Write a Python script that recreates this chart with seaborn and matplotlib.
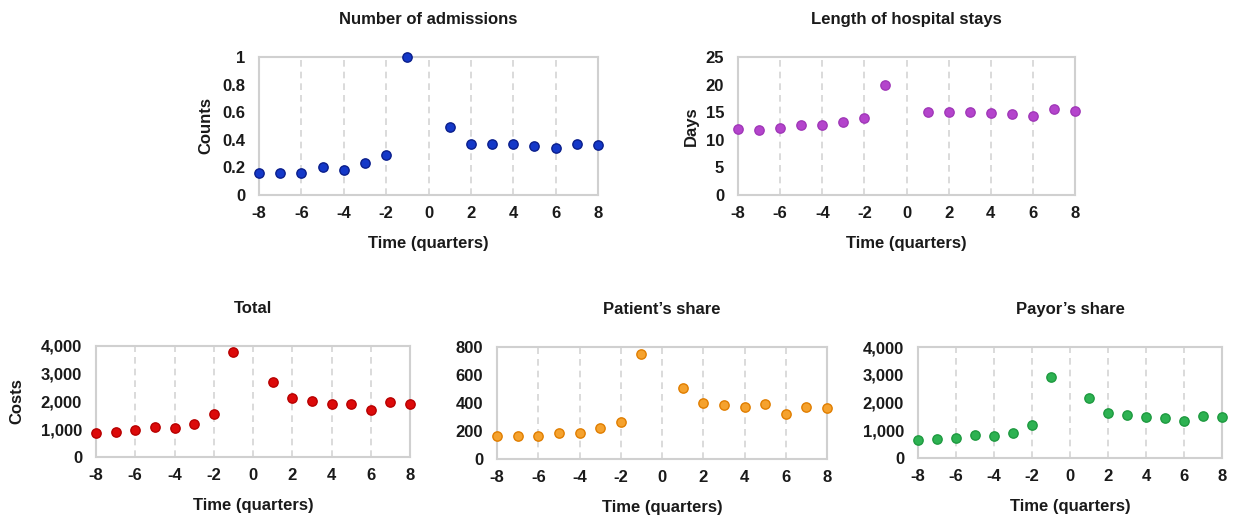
import numpy as np
import pandas as pd
import matplotlib
matplotlib.use("Agg")
import matplotlib.pyplot as plt
import seaborn as sns
from matplotlib.ticker import FuncFormatter, MultipleLocator

sns.set_theme(style="white")
plt.rcParams['font.family'] = ['Liberation Sans', 'DejaVu Sans']
plt.rcParams['axes.unicode_minus'] = False

quarters = [-8, -7, -6, -5, -4, -3, -2, -1, 1, 2, 3, 4, 5, 6, 7, 8]
admissions = [0.16, 0.16, 0.16, 0.20, 0.18, 0.23, 0.29, 1.00, 0.49, 0.37, 0.37, 0.37, 0.355, 0.34, 0.37, 0.36]
stay_days = [12.0, 11.8, 12.2, 12.7, 12.6, 13.2, 13.9, 20.0, 15.1, 15.1, 15.1, 14.9, 14.7, 14.3, 15.5, 15.3]
total_costs = [850, 910, 960, 1065, 1030, 1200, 1540, 3790, 2700, 2120, 2035, 1915, 1915, 1700, 1965, 1915]
patient_share = [165, 165, 165, 188, 188, 221, 262, 748, 507, 402, 386, 369, 395, 319, 369, 362]
payor_share = [660, 670, 705, 825, 790, 905, 1195, 2925, 2150, 1610, 1565, 1480, 1445, 1340, 1530, 1495]

panels = [
    dict(title="Number of admissions", y=admissions, ylabel="Counts", ymax=1.0, step=0.2,
         face="#1438C8", edge="#0A1E8C", rect=[259, 57, 598, 195], fmt="g", lp=6),
    dict(title="Length of hospital stays", y=stay_days, ylabel="Days", ymax=25, step=5,
         face="#B444CC", edge="#A038B8", rect=[738, 57, 1075, 195], fmt="g", lp=5),
    dict(title="Total", y=total_costs, ylabel="Costs", ymax=4000, step=1000,
         face="#DC0A0A", edge="#B80000", rect=[96, 346, 410, 457], fmt=",", lp=12),
    dict(title="Patient\u2019s share", y=patient_share, ylabel="", ymax=800, step=200,
         face="#F5A22E", edge="#E07E00", rect=[497, 347, 827, 459], fmt=",", lp=12),
    dict(title="Payor\u2019s share", y=payor_share, ylabel="", ymax=4000, step=1000,
         face="#2DB252", edge="#1E9A40", rect=[918, 347, 1222, 458], fmt=",", lp=12),
]

W, H = 1236, 521
fig = plt.figure(figsize=(W / 100, H / 100), dpi=100)

for p in panels:
    x0, y0, x1, y1 = p["rect"]
    ax = fig.add_axes([x0 / W, (H - y1) / H, (x1 - x0) / W, (y1 - y0) / H])
    df = pd.DataFrame({"q": quarters, "v": p["y"]})
    sns.scatterplot(data=df, x="q", y="v", ax=ax, s=45, color=p["face"],
                    edgecolor=p["edge"], linewidth=1.0, clip_on=False, zorder=5)
    ax.set_xlim(-8, 8)
    ax.set_ylim(0, p["ymax"])
    ax.xaxis.set_major_locator(MultipleLocator(2))
    ax.yaxis.set_major_locator(MultipleLocator(p["step"]))
    ax.xaxis.set_major_formatter(FuncFormatter(lambda v, pos: f"{v:g}"))
    if p["fmt"] == ",":
        ax.yaxis.set_major_formatter(FuncFormatter(lambda v, pos: f"{v:,.0f}"))
    else:
        ax.yaxis.set_major_formatter(FuncFormatter(lambda v, pos: f"{v:g}"))
    for xv in range(-6, 8, 2):
        ax.axvline(xv, color="#D4D4D4", linestyle=(0, (4, 3)), linewidth=1.2, zorder=1)
    for s in ax.spines.values():
        s.set_color("#D0D0D0")
        s.set_linewidth(1.5)
    ax.tick_params(axis="x", length=0, labelsize=12, pad=8)
    ax.tick_params(axis="y", length=0, labelsize=12, pad=10)
    for lab in ax.get_xticklabels() + ax.get_yticklabels():
        lab.set_fontweight("bold")
        lab.set_color("#1a1a1a")
    ax.set_title(p["title"], fontsize=12, fontweight="bold", pad=24, color="#1a1a1a")
    ax.set_xlabel("Time (quarters)", fontsize=12, fontweight="bold", labelpad=11, color="#1a1a1a")
    ax.set_ylabel(p["ylabel"], fontsize=12, fontweight="bold", labelpad=p["lp"], color="#1a1a1a")

fig.savefig("out.png", dpi=100, facecolor="white")
